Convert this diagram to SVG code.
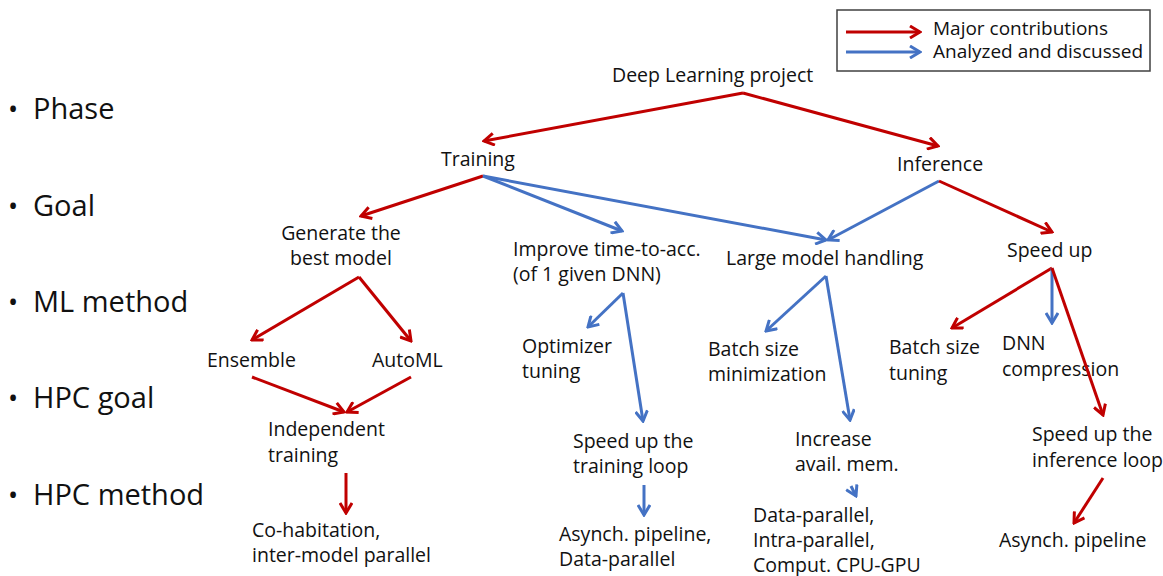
<svg xmlns="http://www.w3.org/2000/svg" width="1163" height="576" viewBox="0 0 1163 576">
  <style>
    text { font-family: "Open Sans", "Liberation Sans", sans-serif; fill: #111; }
    .n { font-size: 19.5px; }
    .lg { font-size: 19px; }
    .lv { font-size: 29px; }
    .bul { font-size: 27px; }
    .r { stroke: #C00000; stroke-width: 3; fill: none; marker-end: url(#ar); }
    .b { stroke: #4472C4; stroke-width: 3; fill: none; marker-end: url(#ab); }
  </style>
  <defs>
    <marker id="ar" viewBox="0 0 14 14" refX="12" refY="7" markerWidth="14" markerHeight="14" markerUnits="userSpaceOnUse" orient="auto">
      <path d="M2,1 L12,7 L2,13" fill="none" stroke="#C00000" stroke-width="3"/>
    </marker>
    <marker id="ab" viewBox="0 0 14 14" refX="12" refY="7" markerWidth="14" markerHeight="14" markerUnits="userSpaceOnUse" orient="auto">
      <path d="M2,1 L12,7 L2,13" fill="none" stroke="#4472C4" stroke-width="3"/>
    </marker>
  </defs>
  <rect width="1163" height="576" fill="#fff"/>

  <!-- legend -->
  <g id="legend">
    <rect x="837" y="10" width="313" height="61" fill="none" stroke="#404040" stroke-width="1.5"/>
    <line class="r" x1="846" y1="32" x2="920" y2="32"/>
    <line class="b" x1="846" y1="52" x2="920" y2="52"/>
    <text class="lg" x="933" y="35">Major contributions</text>
    <text class="lg" x="933" y="58">Analyzed and discussed</text>
  </g>

  <!-- level labels -->
  <g id="levels">
    <text class="lv" x="8" y="119"><tspan class="bul">•</tspan><tspan x="33">Phase</tspan></text>
    <text class="lv" x="8" y="216"><tspan class="bul">•</tspan><tspan x="33">Goal</tspan></text>
    <text class="lv" x="8" y="312"><tspan class="bul">•</tspan><tspan x="33">ML method</tspan></text>
    <text class="lv" x="8" y="408"><tspan class="bul">•</tspan><tspan x="33">HPC goal</tspan></text>
    <text class="lv" x="8" y="505"><tspan class="bul">•</tspan><tspan x="33">HPC method</tspan></text>
  </g>

  <!-- nodes -->
  <g id="deep-learning-project"><text class="n" x="612" y="82">Deep Learning project</text></g>
  <g id="training"><text class="n" x="441" y="166">Training</text></g>
  <g id="inference"><text class="n" x="897" y="171">Inference</text></g>
  <g id="generate-best-model">
    <text class="n" x="341" y="240" text-anchor="middle">Generate the</text>
    <text class="n" x="341" y="265" text-anchor="middle">best model</text>
  </g>
  <g id="improve-time-to-acc">
    <text class="n" x="513" y="256">Improve time-to-acc.</text>
    <text class="n" x="513" y="281">(of 1 given DNN)</text>
  </g>
  <g id="large-model-handling"><text class="n" x="726" y="265">Large model handling</text></g>
  <g id="speed-up"><text class="n" x="1007" y="257">Speed up</text></g>
  <g id="ensemble"><text class="n" x="207" y="367">Ensemble</text></g>
  <g id="automl"><text class="n" x="372" y="367">AutoML</text></g>
  <g id="optimizer-tuning">
    <text class="n" x="522" y="353">Optimizer</text>
    <text class="n" x="522" y="378">tuning</text>
  </g>
  <g id="batch-size-minimization">
    <text class="n" x="708" y="356">Batch size</text>
    <text class="n" x="708" y="381">minimization</text>
  </g>
  <g id="batch-size-tuning">
    <text class="n" x="889" y="354">Batch size</text>
    <text class="n" x="889" y="380">tuning</text>
  </g>
  <g id="dnn-compression">
    <text class="n" x="1002" y="350">DNN</text>
    <text class="n" x="1002" y="376">compression</text>
  </g>
  <g id="independent-training">
    <text class="n" x="268" y="436">Independent</text>
    <text class="n" x="268" y="462">training</text>
  </g>
  <g id="speed-up-training-loop">
    <text class="n" x="573" y="448">Speed up the</text>
    <text class="n" x="573" y="473">training loop</text>
  </g>
  <g id="increase-avail-mem">
    <text class="n" x="795" y="446">Increase</text>
    <text class="n" x="795" y="471">avail. mem.</text>
  </g>
  <g id="speed-up-inference-loop">
    <text class="n" x="1032" y="441">Speed up the</text>
    <text class="n" x="1032" y="467">inference loop</text>
  </g>
  <g id="co-habitation">
    <text class="n" x="252" y="537">Co-habitation,</text>
    <text class="n" x="252" y="562">inter-model parallel</text>
  </g>
  <g id="asynch-data-parallel">
    <text class="n" x="559" y="541">Asynch. pipeline,</text>
    <text class="n" x="559" y="566">Data-parallel</text>
  </g>
  <g id="data-intra-comput">
    <text class="n" x="753" y="522">Data-parallel,</text>
    <text class="n" x="753" y="547">Intra-parallel,</text>
    <text class="n" x="753" y="572">Comput. CPU-GPU</text>
  </g>
  <g id="asynch-pipeline"><text class="n" x="999" y="547">Asynch. pipeline</text></g>

  <!-- connectors -->
  <g id="connectors">
    <line class="r" x1="743" y1="93" x2="484" y2="141"/>
    <line class="r" x1="743" y1="93" x2="938" y2="146"/>
    <line class="r" x1="483" y1="176" x2="361" y2="216"/>
    <line class="b" x1="483" y1="176" x2="622" y2="231"/>
    <line class="b" x1="483" y1="176" x2="826" y2="240"/>
    <line class="b" x1="939" y1="181" x2="828" y2="240"/>
    <line class="r" x1="939" y1="181" x2="1052" y2="232"/>
    <line class="r" x1="359" y1="277" x2="252" y2="340"/>
    <line class="r" x1="359" y1="277" x2="411" y2="341"/>
    <line class="r" x1="252" y1="377" x2="344" y2="412"/>
    <line class="r" x1="411" y1="377" x2="347" y2="412"/>
    <line class="r" x1="346" y1="473" x2="346" y2="513"/>
    <line class="b" x1="623" y1="293" x2="588" y2="327"/>
    <line class="b" x1="623" y1="293" x2="643" y2="421"/>
    <line class="b" x1="644" y1="485" x2="644" y2="515"/>
    <line class="b" x1="826" y1="276" x2="766" y2="331"/>
    <line class="b" x1="826" y1="276" x2="850" y2="420"/>
    <line class="b" x1="851" y1="486" x2="856" y2="496"/>
    <line class="r" x1="1052" y1="268" x2="952" y2="328"/>
    <line class="b" x1="1052" y1="268" x2="1052" y2="323" stroke-width="4"/>
    <line class="r" x1="1052" y1="268" x2="1103" y2="415"/>
    <line class="r" x1="1103" y1="478" x2="1074" y2="523"/>
  </g>
</svg>
